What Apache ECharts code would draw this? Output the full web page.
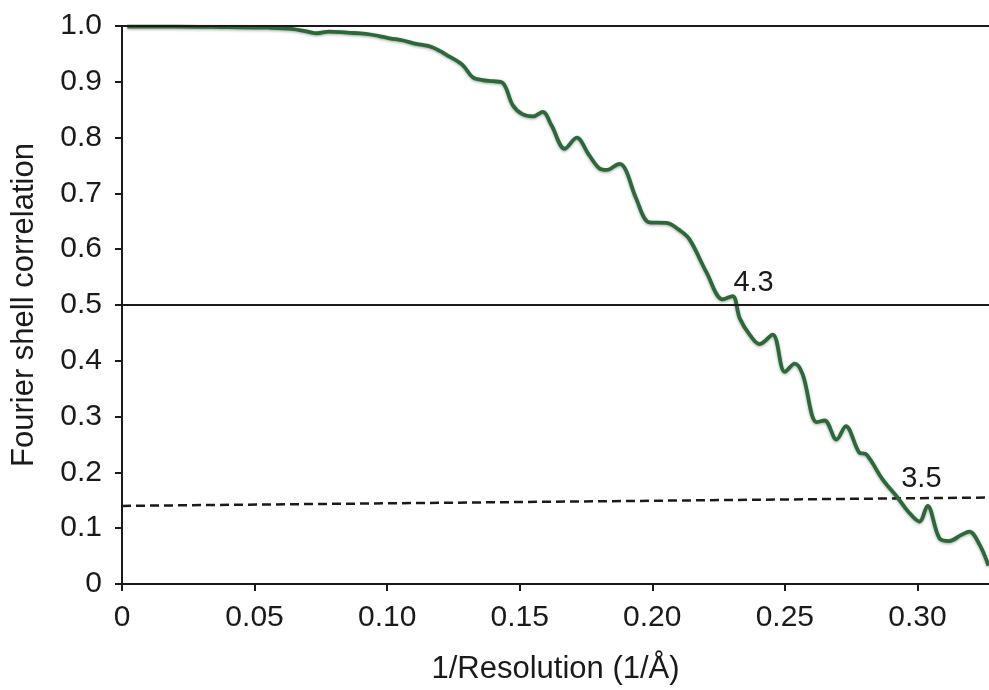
<!DOCTYPE html>
<html>
<head>
<meta charset="utf-8">
<script src="https://cdn.jsdelivr.net/npm/echarts@6/dist/echarts.min.js"></script>
<style>
  html, body { margin: 0; padding: 0; background: #fff; }
  #chart { width: 989px; height: 690px; }
</style>
</head>
<body>
<div id="chart"></div>
<script>
// FSC curve
const fscX = [0.002, 0.02, 0.04, 0.055, 0.064, 0.070, 0.0735, 0.078, 0.085, 0.092, 0.097, 0.101, 0.106, 0.111, 0.117,
  0.1236, 0.1285, 0.1323, 0.136, 0.140, 0.1436, 0.1474, 0.151, 0.155, 0.1587, 0.162, 0.167, 0.1715, 0.176, 0.180,
  0.1828, 0.1877, 0.190, 0.194, 0.199, 0.2054, 0.210, 0.214, 0.2205, 0.2266, 0.2303, 0.233, 0.237, 0.2405, 0.2454,
  0.250, 0.2537, 0.2567, 0.262, 0.265, 0.2695, 0.273, 0.278, 0.2808, 0.2868, 0.2925, 0.2965, 0.3008, 0.3038, 0.3083,
  0.312, 0.3165, 0.3196, 0.3235, 0.3268];
const fscY = [0.999, 0.999, 0.998, 0.997, 0.995, 0.990, 0.987, 0.990, 0.988, 0.986, 0.982, 0.978, 0.974, 0.968, 0.962,
  0.945, 0.930, 0.908, 0.903, 0.901, 0.898, 0.858, 0.842, 0.838, 0.846, 0.822, 0.780, 0.800, 0.770, 0.745,
  0.742, 0.753, 0.742, 0.690, 0.648, 0.647, 0.635, 0.618, 0.558, 0.510, 0.516, 0.476, 0.445, 0.430, 0.447,
  0.380, 0.395, 0.376, 0.290, 0.293, 0.259, 0.283, 0.236, 0.232, 0.188, 0.155, 0.130, 0.112, 0.140, 0.082,
  0.077, 0.088, 0.094, 0.070, 0.033];

// reference thresholds
const solidLevels = [1.0, 0.5];
const dashedX = [0, 0.327];
const dashedY = [0.140, 0.155];

// resolution labels
const notes = ['4.3', '3.5'];
const noteX = [0.2382, 0.3015];
const noteY = [0.540, 0.188];

const xMax = 0.327;

const chart = echarts.init(document.getElementById('chart'));
const font = 'Liberation Sans, Arial, Helvetica, sans-serif';
const ink = '#1a1a1a';

const option = {
  animation: false,
  backgroundColor: '#fff',
  grid: { left: 122, right: 0, top: 26, bottom: 105, containLabel: false },
  xAxis: {
    type: 'value',
    min: 0,
    max: xMax,
    interval: 0.05,
    name: '1/Resolution (1/Å)',
    nameLocation: 'middle',
    nameGap: 70,
    nameTextStyle: { fontFamily: font, fontSize: 31, color: ink },
    axisLine: { lineStyle: { color: ink, width: 2 } },
    axisTick: { show: true, length: 7, lineStyle: { color: ink, width: 2 } },
    axisLabel: {
      fontFamily: font, fontSize: 30, color: ink, margin: 19,
      showMaxLabel: false,
      formatter: v => v === 0 ? '0' : v.toFixed(2)
    },
    splitLine: { show: false }
  },
  yAxis: {
    type: 'value',
    min: 0,
    max: 1,
    interval: 0.1,
    name: 'Fourier shell correlation',
    nameLocation: 'middle',
    nameGap: 82,
    nameTextStyle: { fontFamily: font, fontSize: 31, color: ink },
    axisLine: { lineStyle: { color: ink, width: 2 } },
    axisTick: { show: true, length: 7, lineStyle: { color: ink, width: 2 } },
    axisLabel: {
      fontFamily: font, fontSize: 30, color: ink, margin: 20,
      formatter: v => v === 0 ? '0' : v.toFixed(1)
    },
    splitLine: { show: false }
  },
  series: [
    {
      name: 'threshold',
      type: 'line',
      data: dashedX.map((x, i) => [x, dashedY[i]]),
      symbol: 'none',
      lineStyle: { color: ink, width: 2.5, type: [9, 5] },
      z: 2,
      markLine: {
        silent: true,
        symbol: 'none',
        label: { show: false },
        lineStyle: { color: ink, width: 2, type: 'solid' },
        data: solidLevels.map(v => ({ yAxis: v }))
      }
    },
    {
      name: 'FSC',
      type: 'line',
      data: fscX.map((x, i) => [x, fscY[i]]),
      symbol: 'none',
      smooth: 0.35,
      lineStyle: {
        color: '#2b6a38', width: 3.8,
        shadowColor: 'rgba(0,0,0,0.35)', shadowBlur: 3, shadowOffsetY: 1
      },
      z: 3
    },
    {
      name: 'notes',
      type: 'scatter',
      data: noteX.map((x, i) => ({ value: [x, noteY[i]], name: notes[i] })),
      symbolSize: 1,
      itemStyle: { color: 'transparent', opacity: 1 },
      label: {
        show: true,
        position: 'inside',
        formatter: p => p.name,
        fontFamily: font, fontSize: 29, color: ink,
        textBorderWidth: 0
      },
      z: 4
    }
  ]
};

chart.setOption(option);
</script>
</body>
</html>
